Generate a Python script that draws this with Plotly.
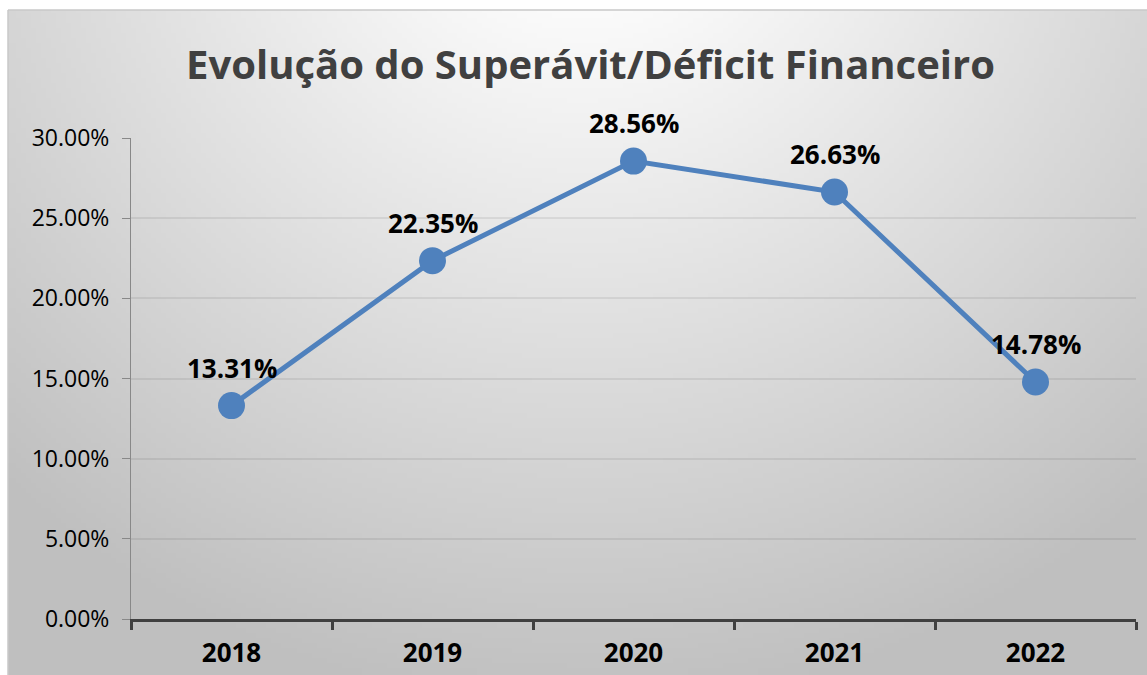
import base64
import struct
import zlib

import plotly.graph_objects as go

# data
anos = ["2018", "2019", "2020", "2021", "2022"]
resultado = [0.1331, 0.2235, 0.2856, 0.2663, 0.1478]
rotulos = ["13.31%", "22.35%", "28.56%", "26.63%", "14.78%"]
titulo = "Evolução do Superávit/Déficit Financeiro"

W, H = 1147, 675


def radial_png(w, h, cx, cy, scale):
    # light grey radial background, centre above the chart
    rows = []
    for j in range(h):
        row = bytearray([0])
        for i in range(w):
            d = (((i - cx) ** 2 + (j - cy) ** 2) ** 0.5) * scale
            g = 249 - (d - 180) * 0.085
            g = int(max(191, min(250, g)))
            row += bytes([g, g, g])
        rows.append(bytes(row))
    raw = b"".join(rows)

    def chunk(tag, data):
        c = struct.pack(">I", len(data)) + tag + data
        return c + struct.pack(">I", zlib.crc32(tag + data) & 0xffffffff)

    png = b"\x89PNG\r\n\x1a\n"
    png += chunk(b"IHDR", struct.pack(">IIBBBBB", w, h, 8, 2, 0, 0, 0))
    png += chunk(b"IDAT", zlib.compress(raw, 9))
    png += chunk(b"IEND", b"")
    return "data:image/png;base64," + base64.b64encode(png).decode()


s = 5
bg = radial_png((W - 8) // s, (H - 10) // s, (580 - 8) / s, (-150 - 10) / s, s)

fig = go.Figure()
fig.add_trace(go.Scatter(
    x=anos, y=resultado, mode="lines+markers",
    line=dict(color="#4f81bd", width=5),
    marker=dict(color="#4f81bd", size=27),
    hoverinfo="skip", showlegend=False,
))

for i, (v, t) in enumerate(zip(resultado, rotulos)):
    fig.add_annotation(x=i, y=v, text="<b>%s</b>" % t, showarrow=False, yshift=38,
                       font=dict(family="Open Sans", size=26, color="#000000"))

fig.update_layout(
    width=W, height=H,
    margin=dict(l=0, r=0, t=0, b=0, autoexpand=False),
    paper_bgcolor="white",
    plot_bgcolor="rgba(0,0,0,0)",
    title=dict(text="<b>%s</b>" % titulo, x=(590.5 / W), y=1 - 65 / H,
               xanchor="center", yanchor="middle",
               font=dict(family="Open Sans", size=40, color="#404040")),
    images=[dict(source=bg, xref="paper", yref="paper", x=8 / W, y=1 - 10 / H,
                 sizex=1 - 8 / W, sizey=1 - 10 / H, xanchor="left", yanchor="top",
                 sizing="stretch", layer="below")],
    shapes=[
        dict(type="line", xref="paper", yref="paper", x0=8 / W, x1=1, y0=1 - 10 / H, y1=1 - 10 / H,
             line=dict(color="#c8c8c8", width=1.5)),
        dict(type="line", xref="paper", yref="paper", x0=8 / W, x1=8 / W, y0=0, y1=1 - 10 / H,
             line=dict(color="#c8c8c8", width=1.5)),
    ],
    xaxis=dict(
        type="category",
        automargin=False,
        domain=[131 / W, 1136 / W],
        range=[-0.5, 4.5],
        showgrid=False,
        showline=True, linecolor="#404040", linewidth=3,
        ticks="outside", tickson="boundaries", ticklen=8, tickwidth=3, tickcolor="#404040",
        tickfont=dict(family="Open Sans", size=26, color="#000000"),
        tickprefix="<b>", ticksuffix="</b>",
        ticklabelstandoff=9,
    ),
    yaxis=dict(
        automargin=False,
        domain=[1 - 619 / H, 1 - 138 / H],
        range=[0, 0.30],
        dtick=0.05,
        tickformat=".2%",
        showgrid=True, gridcolor="rgba(0,0,0,0.07)", gridwidth=1.5,
        zeroline=False,
        showline=True, linecolor="#888888", linewidth=1,
        ticks="outside", ticklen=8, tickcolor="#888888",
        tickfont=dict(family="Open Sans", size=23, color="#000000"),
        ticklabelstandoff=8,
    ),
)

fig.write_html("out.html", config={"displayModeBar": False},
               post_script="document.body.style.margin='0';")
